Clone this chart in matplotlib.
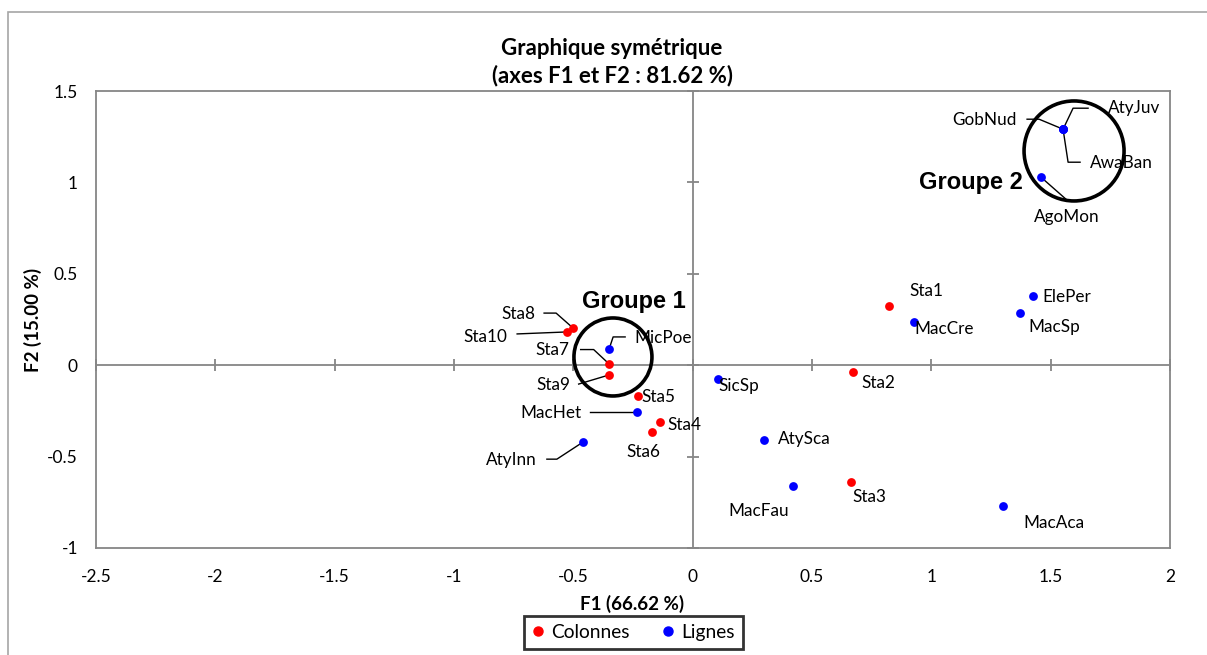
import matplotlib
matplotlib.use("Agg")
import matplotlib.pyplot as plt
from matplotlib.lines import Line2D
from matplotlib.patches import Ellipse, Rectangle

# ---- data -------------------------------------------------------------
col_names = ["Sta1", "Sta2", "Sta3", "Sta4", "Sta5", "Sta6", "Sta7", "Sta8", "Sta9", "Sta10"]
col_f1 = [0.822, 0.671, 0.663, -0.137, -0.227, -0.170, -0.352, -0.501, -0.352, -0.526]
col_f2 = [0.324, -0.037, -0.637, -0.310, -0.168, -0.365, 0.009, 0.203, -0.054, 0.182]

row_names = ["MicPoe", "MacHet", "AtyInn", "SicSp", "AtySca", "MacFau", "MacAca",
             "MacCre", "MacSp", "ElePer", "GobNud", "AtyJuv", "AwaBan", "AgoMon"]
row_f1 = [-0.350, -0.233, -0.460, 0.106, 0.299, 0.420, 1.299,
          0.927, 1.371, 1.426, 1.552, 1.552, 1.552, 1.459]
row_f2 = [0.089, -0.256, -0.421, -0.075, -0.410, -0.661, -0.772,
          0.237, 0.285, 0.378, 1.291, 1.291, 1.291, 1.029]

x_ticks = [-2.5, -2, -1.5, -1, -0.5, 0, 0.5, 1, 1.5, 2]
x_tick_labels = ["-2.5", "-2", "-1.5", "-1", "-0.5", "0", "0.5", "1", "1.5", "2"]
y_ticks = [-1, -0.5, 0, 0.5, 1, 1.5]
y_tick_labels = ["-1", "-0.5", "0", "0.5", "1", "1.5"]

title = "Graphique symétrique\n(axes F1 et F2 : 81.62 %)"
x_title = "F1 (66.62 %)"
y_title = "F2 (15.00 %)"

# groups: name, centre (F1, F2), radius in pixels
groups = [("Groupe 1", (-0.334, 0.045), 39), ("Groupe 2", (1.598, 1.172), 50)]

# ---- label layout (pixel offsets from the point; y downward) ----------
# name: (dx, dy, ha, leader polyline offsets)
layout = {
    "Sta1": (21, -15, "left", None),
    "Sta2": (9, 11, "left", None),
    "Sta3": (1, 15, "left", None),
    "Sta4": (7, 3, "left", None),
    "Sta5": (3, 1, "left", None),
    "Sta6": (-9, 20, "center", None),
    "Sta7": (-39, -14, "right", [(-28, -14), (-15, -14), (0, 0)]),
    "Sta8": (-38, -14, "right", [(-29, -15), (-17, -15), (0, 0)]),
    "Sta9": (-38, 10, "right", [(-30, 9), (0, 0)]),
    "Sta10": (-60, 5, "right", [(-50, 2), (0, 0)]),
    "MicPoe": (25, -11, "left", [(0, 0), (4, -12), (16, -12)]),
    "MacHet": (-56, 1, "right", [(-47, 0), (0, 0)]),
    "AtyInn": (-46, 18, "right", [(-36, 17), (-26, 17), (0, 0)]),
    "SicSp": (0, 7, "left", None),
    "AtySca": (14, -1, "left", None),
    "MacFau": (-34, 25, "center", None),
    "MacAca": (21, 17, "left", None),
    "MacCre": (0, 7, "left", None),
    "MacSp": (8, 14, "left", None),
    "ElePer": (9, 1, "left", None),
    "GobNud": (-46, -9, "right", [(-36, -10), (-24, -10), (0, 0)]),
    "AtyJuv": (45, -21, "left", [(0, 0), (10, -21), (25, -21)]),
    "AwaBan": (27, 34, "left", [(0, 0), (5, 33), (17, 33)]),
    "AgoMon": (26, 40, "center", [(0, 0), (25, 22)]),
}

W, H, DPI = 1207, 655, 100
GREY = "#868686"
FONT = "Lato"
LABEL_SIZE = 12.3
plt.rcParams["font.family"] = [FONT, "DejaVu Sans"]

fig = plt.figure(figsize=(W / DPI, H / DPI), dpi=DPI)

# outer chart frame (left and top edges visible)
fig.add_artist(Rectangle((8 / W, -0.1), 1.2, 1 - 12 / H + 0.1, transform=fig.transFigure,
                         fill=False, edgecolor="#a6a6a6", linewidth=1.2))

L, R, T, B = 96, 1170, 91, 548
ax = fig.add_axes([L / W, 1 - B / H, (R - L) / W, (B - T) / H])
ax.set_xlim(-2.5, 2)
ax.set_ylim(-1, 1.5)
for s in ax.spines.values():
    s.set_color(GREY)
    s.set_linewidth(1.3)

ax.set_xticks(x_ticks, x_tick_labels)
ax.set_yticks(y_ticks, y_tick_labels)
ax.tick_params(axis="both", length=0, labelsize=12.5, colors="black")
ax.tick_params(axis="x", pad=15)
ax.tick_params(axis="y", pad=13)

# crossing axes through the origin, with tick marks
ax.axhline(0, color=GREY, linewidth=1.3, zorder=1)
ax.axvline(0, color=GREY, linewidth=1.3, zorder=1)
ax.plot(x_ticks, [0] * len(x_ticks), linestyle="none", marker="|", markersize=8,
        markeredgewidth=1.3, color=GREY, zorder=1, clip_on=False)
ax.plot([0] * len(y_ticks), y_ticks, linestyle="none", marker="_", markersize=8,
        markeredgewidth=1.3, color=GREY, zorder=1, clip_on=False)

ax.scatter(col_f1, col_f2, s=40, color="#ff0000", zorder=3, linewidths=0, label="Colonnes")
ax.scatter(row_f1, row_f2, s=40, color="#0000ff", zorder=3, linewidths=0, label="Lignes")

to_disp = ax.transData
to_data = ax.transData.inverted()


def offset_point(x, y, dx, dy):
    px, py = to_disp.transform((x, y))
    return to_data.transform((px + dx, py - dy))


for names, xs, ys in ((col_names, col_f1, col_f2), (row_names, row_f1, row_f2)):
    for n, x, y in zip(names, xs, ys):
        dx, dy, ha, leader = layout[n]
        ax.annotate(n, (x, y), xytext=(dx, -dy), textcoords="offset pixels",
                    ha=ha, va="center", fontsize=LABEL_SIZE, zorder=4)
        if leader:
            pts = [offset_point(x, y, a, b) for a, b in leader]
            ax.plot([p[0] for p in pts], [p[1] for p in pts], color="black",
                    linewidth=1.0, zorder=2)

# group circles and their labels
sx = (R - L) / 4.5
sy = (B - T) / 2.5
for gname, (cx, cy), r in groups:
    ax.add_patch(Ellipse((cx, cy), 2 * r / sx, 2 * r / sy, fill=False,
                         edgecolor="black", linewidth=2.6, zorder=5))
ax.annotate("Groupe 1", groups[0][1], xytext=(-31, 55), textcoords="offset pixels",
            ha="left", va="center", fontsize=17, fontweight="bold",
            family="Liberation Sans")
ax.annotate("Groupe 2", groups[1][1], xytext=(-51, -32), textcoords="offset pixels",
            ha="right", va="center", fontsize=17, fontweight="bold",
            family="Liberation Sans")

# titles
fig.text(612 / W, 1 - 62 / H, title, ha="center", va="center", fontsize=16,
         fontweight="bold", linespacing=1.35)
fig.text(632 / W, 1 - 604 / H, x_title, ha="center", va="center", fontsize=13.5,
         fontweight="bold")
fig.text(33 / W, 1 - 320 / H, y_title, ha="center", va="center", fontsize=13.5,
         fontweight="bold", rotation=90)

handles = [Line2D([], [], linestyle="none", marker="o", markersize=6.5, color="#ff0000"),
           Line2D([], [], linestyle="none", marker="o", markersize=6.5, color="#0000ff")]
leg = fig.legend(handles, ["Colonnes", "Lignes"], loc="center",
                 bbox_to_anchor=(633.5 / W, 1 - 632.5 / H), ncol=2, frameon=True,
                 fancybox=False, edgecolor="black", fontsize=13.8, handlelength=0.6,
                 handletextpad=0.4, columnspacing=1.7, borderpad=0.42)
leg.get_frame().set_linewidth(2)

fig.savefig("out.png", dpi=DPI)
